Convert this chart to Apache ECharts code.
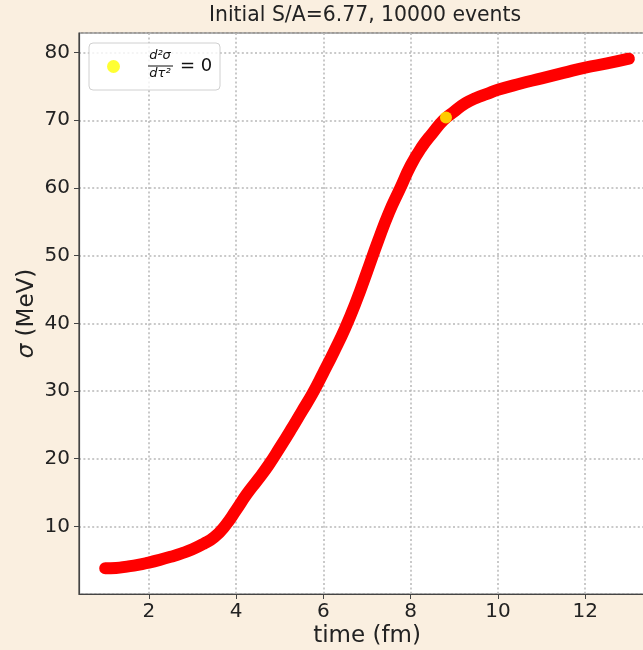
<!DOCTYPE html>
<html>
<head>
<meta charset="utf-8">
<script src="https://cdn.jsdelivr.net/npm/echarts@6/dist/echarts.min.js"></script>
<style>
  html, body { margin: 0; padding: 0; background: #faefe0; }
  #chart { width: 643px; height: 650px; }
</style>
</head>
<body>
<div id="chart"></div>
<script>
// time (fm) and sigma (MeV)
const timeFm = [1.0, 1.25, 1.5, 1.75, 2.0, 2.25, 2.5, 2.75, 3.0, 3.25, 3.5, 3.75,
    4.0, 4.25, 4.5, 4.75, 5.0, 5.25, 5.5, 5.75, 6.0, 6.25, 6.5, 6.75,
    7.0, 7.25, 7.5, 7.75, 8.0, 8.25, 8.5, 8.75, 9.0, 9.25, 9.5, 9.75,
    10.0, 10.5, 11.0, 11.5, 12.0, 12.5, 13.0];
const sigmaMeV = [3.8, 3.85, 4.05, 4.3, 4.65, 5.05, 5.5, 6.0, 6.6, 7.4, 8.4, 10.1,
    12.4, 14.8, 16.9, 19.1, 21.6, 24.2, 26.9, 29.6, 32.7, 35.9, 39.3, 43.2,
    47.6, 52.1, 56.3, 59.8, 63.3, 66.0, 68.1, 70.0, 71.3, 72.5, 73.3, 73.9,
    74.5, 75.4, 76.2, 77.0, 77.8, 78.4, 79.1];
// inflection point, d2sigma/dtau2 = 0
const inflection = [8.81, 70.4];
const xTicks = [2, 4, 6, 8, 10, 12];
const yTicks = [10, 20, 30, 40, 50, 60, 70, 80];

const FONT = 'DejaVu Sans';
const chart = echarts.init(document.getElementById('chart'));

const curve = timeFm.map((t, i) => [t, sigmaMeV[i]]);
const gridLine = { show: true, lineStyle: { color: '#b8b8b8', width: 1.5, type: [2, 2.4] } };

const option = {
    backgroundColor: '#faefe0',
    animation: false,
    title: {
        text: 'Initial S/A=6.77, 10000 events',
        left: 209,
        top: 6,
        padding: 0,
        textStyle: { fontFamily: FONT, fontSize: 20.4, fontWeight: 'normal', color: '#222' }
    },
    grid: {
        left: 79, width: 576, top: 33, bottom: 56,
        outerBoundsMode: 'none',
        show: true, backgroundColor: '#fff', borderColor: '#444', borderWidth: 1.2
    },
    legend: {
        left: 89, top: 43,
        padding: [17, 100, 17, 18],
        icon: 'circle',
        itemWidth: 13, itemHeight: 13,
        backgroundColor: 'rgba(255,255,255,0.8)',
        borderColor: '#d0d0d0', borderWidth: 1, borderRadius: 4,
        data: ['inflection'],
        formatter: () => ''
    },
    xAxis: {
        type: 'value', min: 0.4, max: 13.6,
        name: 'time (fm)', nameLocation: 'middle', nameGap: 31,
        nameMoveOverlap: false,
        nameTextStyle: { fontFamily: FONT, fontSize: 23, color: '#222' },
        axisLine: { show: true, lineStyle: { color: '#444', width: 1.2 } },
        axisTick: { show: true, length: 5, customValues: xTicks, lineStyle: { color: '#444' } },
        axisLabel: {
            fontFamily: FONT, fontSize: 20, color: '#222', margin: 8,
            customValues: xTicks
        },
        splitLine: gridLine
    },
    yAxis: {
        type: 'value', min: 0, max: 82.9, interval: 10,
        name: '{i|σ} (MeV)', nameLocation: 'middle', nameGap: 40,
        nameMoveOverlap: false,
        nameTextStyle: {
            fontFamily: FONT, fontSize: 23, color: '#222',
            rich: { i: { fontFamily: FONT, fontSize: 23, fontStyle: 'italic', color: '#222' } }
        },
        axisLine: { show: true, lineStyle: { color: '#444', width: 1.2 } },
        axisTick: { show: true, length: 5, lineStyle: { color: '#444' } },
        axisLabel: {
            fontFamily: FONT, fontSize: 20, color: '#222', margin: 9,
            showMinLabel: false, showMaxLabel: false,
            formatter: v => yTicks.includes(v) ? String(v) : ''
        },
        splitLine: gridLine
    },
    series: [
        {
            name: 'sigma',
            type: 'line',
            data: curve,
            smooth: true,
            showSymbol: false,
            lineStyle: { color: '#ff0000', width: 12, cap: 'round', join: 'round' },
            z: 2
        },
        {
            name: 'inflection',
            type: 'scatter',
            data: [inflection],
            symbol: 'circle',
            symbolSize: 12,
            itemStyle: { color: '#ffff00' },
            z: 3
        }
    ],
    graphic: [
        { type: 'text', z: 100, style: { text: 'd²σ', x: 160, y: 56, align: 'center', verticalAlign: 'middle', font: 'italic 13px "DejaVu Sans"', fill: '#111' } },
        { type: 'line', z: 100, shape: { x1: 148, y1: 66, x2: 173, y2: 66 }, style: { stroke: '#111', lineWidth: 1 } },
        { type: 'text', z: 100, style: { text: 'dτ²', x: 160, y: 74, align: 'center', verticalAlign: 'middle', font: 'italic 13px "DejaVu Sans"', fill: '#111' } },
        { type: 'text', z: 100, style: { text: '= 0', x: 180, y: 66, align: 'left', verticalAlign: 'middle', font: '18px "DejaVu Sans"', fill: '#111' } }
    ]
};

chart.setOption(option);
</script>
</body>
</html>
